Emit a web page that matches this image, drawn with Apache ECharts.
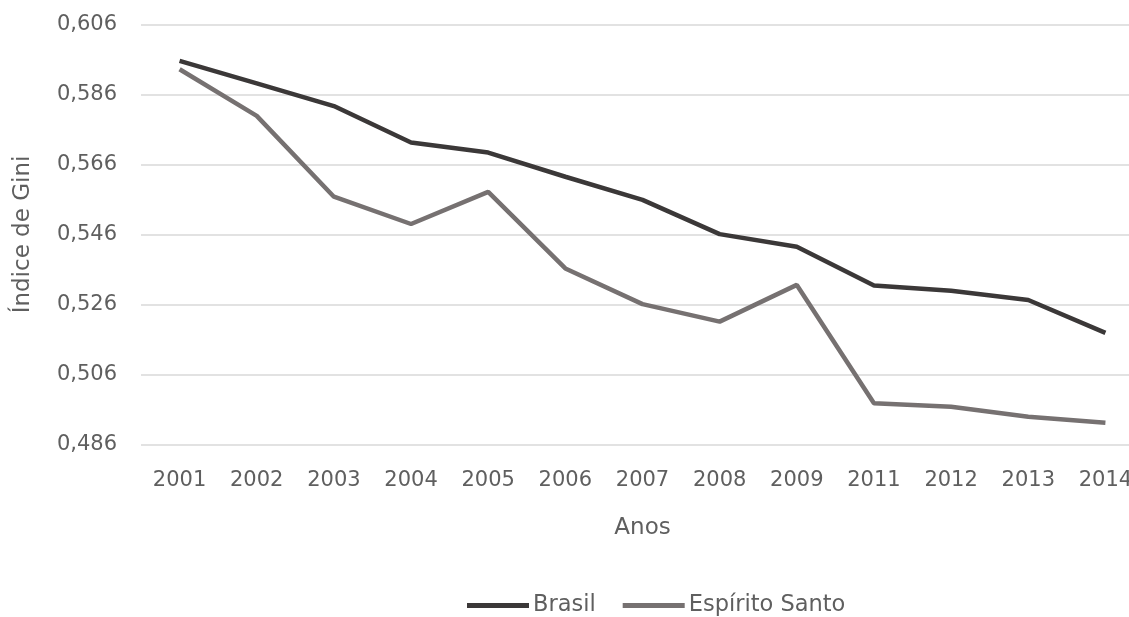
<!DOCTYPE html>
<html>
<head>
<meta charset="utf-8">
<script src="https://cdn.jsdelivr.net/npm/echarts@6/dist/echarts.min.js"></script>
<style>
html, body { margin: 0; padding: 0; background: #fff; }
#container { width: 1129px; height: 617px; }
</style>
</head>
<body>
<div id="container"></div>
<script>
var anos = ['2001', '2002', '2003', '2004', '2005', '2006', '2007', '2008', '2009', '2011', '2012', '2013', '2014'];
var brasil = [0.5956, 0.5892, 0.5827, 0.5723, 0.5694, 0.5625, 0.5559, 0.5461, 0.5425, 0.5314, 0.5299, 0.5273, 0.5179];
var espiritoSanto = [0.5932, 0.5799, 0.5568, 0.5490, 0.5582, 0.5363, 0.5261, 0.5211, 0.5316, 0.4978, 0.4968, 0.4939, 0.4922];
var yMin = 0.486, yMax = 0.606, yStep = 0.02;

var dom = document.getElementById('container');
var myChart = echarts.init(dom);
var textColor = '#5f5f5f';
var fontFam = '"DejaVu Sans", sans-serif';

var option = {
	animation: false,
	textStyle: { fontFamily: fontFam },
	grid: { left: 141, top: 24.5, width: 1003, height: 420, outerBoundsMode: 'none', containLabel: false },
	legend: {
		bottom: 0,
		left: 467,
		padding: 0,
		icon: 'rect',
		itemWidth: 62,
		itemHeight: 5,
		itemGap: 27,
		textStyle: { color: textColor, fontSize: 22.5, fontFamily: fontFam, padding: [0, 0, 0, -1] },
		data: ['Brasil', 'Espírito Santo']
	},
	xAxis: {
		type: 'category',
		data: anos,
		name: 'Anos',
		nameLocation: 'middle',
		nameGap: 72,
		nameTextStyle: { color: textColor, fontSize: 23 },
		axisLine: { show: false },
		axisTick: { show: false },
		axisLabel: { color: textColor, fontSize: 21, margin: 26, interval: 0 }
	},
	yAxis: {
		type: 'value',
		min: yMin,
		max: yMax,
		interval: yStep,
		name: 'Índice de Gini',
		nameLocation: 'middle',
		nameGap: 106,
		nameTextStyle: { color: textColor, fontSize: 23 },
		axisLine: { show: false },
		axisTick: { show: false },
		axisLabel: {
			color: textColor,
			fontSize: 21,
			margin: 24,
			formatter: function (v) { return v.toFixed(3).replace('.', ','); }
		},
		splitLine: { lineStyle: { color: '#d9d9d9', width: 1.5 } }
	},
	series: [
		{
			name: 'Brasil',
			type: 'line',
			data: brasil,
			symbol: 'none',
			color: '#3b3838',
			lineStyle: { width: 4.5, color: '#3b3838' }
		},
		{
			name: 'Espírito Santo',
			type: 'line',
			data: espiritoSanto,
			symbol: 'none',
			color: '#767171',
			lineStyle: { width: 4.5, color: '#767171' }
		}
	]
};

myChart.setOption(option, true);
</script>
</body>
</html>
